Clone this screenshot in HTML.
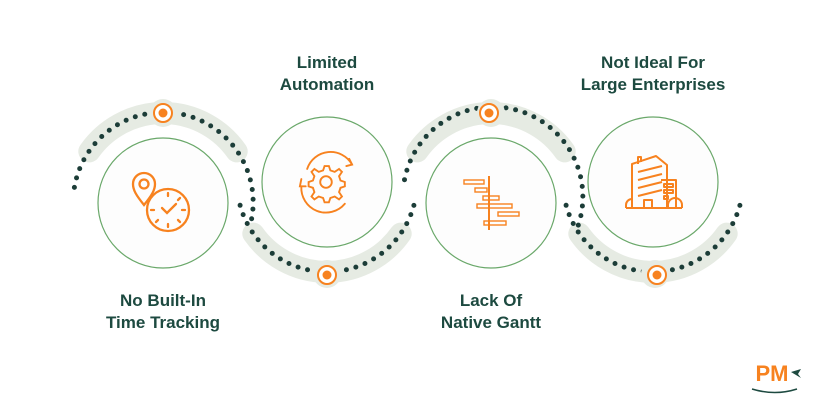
<!DOCTYPE html>
<html><head><meta charset="utf-8"><style>
html,body{margin:0;padding:0;background:#fff;}
svg{display:block}
text{font-family:"Liberation Sans",sans-serif;font-weight:bold;font-size:17px;fill:#1d4a40;text-anchor:middle}
</style></head><body>
<svg width="818" height="413" viewBox="0 0 818 413" xmlns="http://www.w3.org/2000/svg">
<g fill="none" stroke="#e6ebe3" stroke-width="22" stroke-linecap="round">
<path d="M89.3,151.4 A90,90 0 0 1 236.7,151.4"/>
<path d="M400.7,233.6 A90,90 0 0 1 253.3,233.6"/>
<path d="M417.3,151.4 A90,90 0 0 1 564.7,151.4"/>
<path d="M726.7,233.6 A90,90 0 0 1 579.3,233.6"/>
</g>
<g fill="none" stroke="#1c3d38" stroke-width="5" stroke-linecap="round" stroke-dasharray="0 9.8">
<path d="M74.4,187.4 A90,90 0 1 1 249.9,226.3"/>
<path d="M240.1,205.3 A90,90 0 0 0 413.9,205.3"/>
<path d="M404.5,179.7 A90,90 0 1 1 577.9,226.3"/>
<path d="M566.1,205.3 A90,90 0 0 0 739.9,205.3"/>
</g>
<g fill="#e6ebe3">
<circle cx="163" cy="113" r="14"/><circle cx="327" cy="274" r="14"/><circle cx="491" cy="113" r="14"/><circle cx="655" cy="274" r="14"/>
</g>
<g fill="#fdfdfd" stroke="#6aa86a" stroke-width="1.2">
<circle cx="163" cy="203" r="65"/>
<circle cx="327" cy="182" r="65"/>
<circle cx="491" cy="203" r="65"/>
<circle cx="653" cy="182" r="65"/>
</g>
<g>
<circle cx="163" cy="113" r="9" fill="#fff" stroke="#f7821f" stroke-width="2"/><circle cx="163" cy="113" r="4.5" fill="#f7821f"/>
<circle cx="327" cy="275" r="9" fill="#fff" stroke="#f7821f" stroke-width="2"/><circle cx="327" cy="275" r="4.5" fill="#f7821f"/>
<circle cx="489" cy="113" r="9" fill="#fff" stroke="#f7821f" stroke-width="2"/><circle cx="489" cy="113" r="4.5" fill="#f7821f"/>
<circle cx="657" cy="275" r="9" fill="#fff" stroke="#f7821f" stroke-width="2"/><circle cx="657" cy="275" r="4.5" fill="#f7821f"/>
</g>
<!-- icon 1 -->
<g fill="none" stroke="#f7821f" stroke-width="2.3" stroke-linecap="round">
<path d="M144,205 C136,195 133,190 133,184 A11,11 0 0 1 155,184 C155,190 152,195 144,205Z"/>
<circle cx="144" cy="184" r="4.5"/>
<circle cx="168" cy="210" r="21"/>
<path d="M162,208 L167,213 L176,204"/>
<path d="M168,193v3 M168,224v3 M151,210h3 M182,210h3 M180,198l-2,2 M156,222l2,-2 M180,222l-2,-2"/>
</g>
<!-- icon 2 -->
<g fill="none" stroke="#f7821f" stroke-width="1.3" stroke-linecap="round" transform="translate(326,182) scale(1.45) translate(-326,-182)">
<circle cx="326" cy="182" r="4"/>
<path d="M326,171 l2,0 1,3 3,1 3,-2 2,2 -2,3 1,3 3,1 0,3 -3,1 -1,3 2,3 -2,2 -3,-2 -3,1 -1,3 h-3 l-1,-3 -3,-1 -3,2 -2,-2 2,-3 -1,-3 -3,-1 v-3 l3,-1 1,-3 -2,-3 2,-2 3,2 3,-1 1,-3z"/>
<path d="M313,173 A17,17 0 0 1 344,170 M339,197 A17,17 0 0 1 309,185"/>
<path d="M342,166 l2,4 -4,1 M309,180 l-1,5 4,0"/>
</g>
<!-- icon 3 -->
<g fill="none" stroke="#f7821f" stroke-width="1.4">
<path d="M489,176v54" stroke-width="2"/>
<rect x="464" y="180" width="20" height="4"/>
<rect x="475" y="188" width="12" height="4"/>
<rect x="483" y="196" width="16" height="4"/>
<rect x="477" y="204" width="35" height="4"/>
<rect x="498" y="212" width="21" height="4"/>
<rect x="484" y="221" width="22" height="4"/>
</g>
<!-- icon 4 -->
<g fill="none" stroke="#f7821f" stroke-width="2" stroke-linejoin="round">
<path d="M632,208 V164 L656,156 L667,165 V208"/>
<path d="M638,164 v-7 h3 v5"/>
<path d="M638,172 L662,166 M638,180 L662,174 M638,188 L662,182 M638,196 L662,190"/>
<path d="M661,180 h15 v28"/>
<rect x="664" y="184" width="9" height="3"/><rect x="664" y="190" width="9" height="3"/><rect x="664" y="196" width="4" height="3"/>
<path d="M626,208 h56 M626,208 v-3 a6,6 0 0 1 6,-6 M682,208 v-3 a7,7 0 0 0 -14,0 v3"/>
<path d="M644,208 v-8 h8 v8"/>
</g>
<text x="327" y="68">Limited</text>
<text x="327" y="90">Automation</text>
<text x="653" y="68">Not Ideal For</text>
<text x="653" y="90">Large Enterprises</text>
<text x="163" y="306">No Built-In</text>
<text x="163" y="328">Time Tracking</text>
<text x="491" y="306">Lack Of</text>
<text x="491" y="328">Native Gantt</text>
<text x="772" y="381" style="font-size:22px;fill:#f7821f;font-weight:900">PM</text>
<path d="M791,372 L801,369 L798,374 L801,378Z" fill="#1d4a40"/>
<path d="M752,389 Q775,396 797,389" fill="none" stroke="#1d4a40" stroke-width="1.5"/>
</svg>
</body></html>
